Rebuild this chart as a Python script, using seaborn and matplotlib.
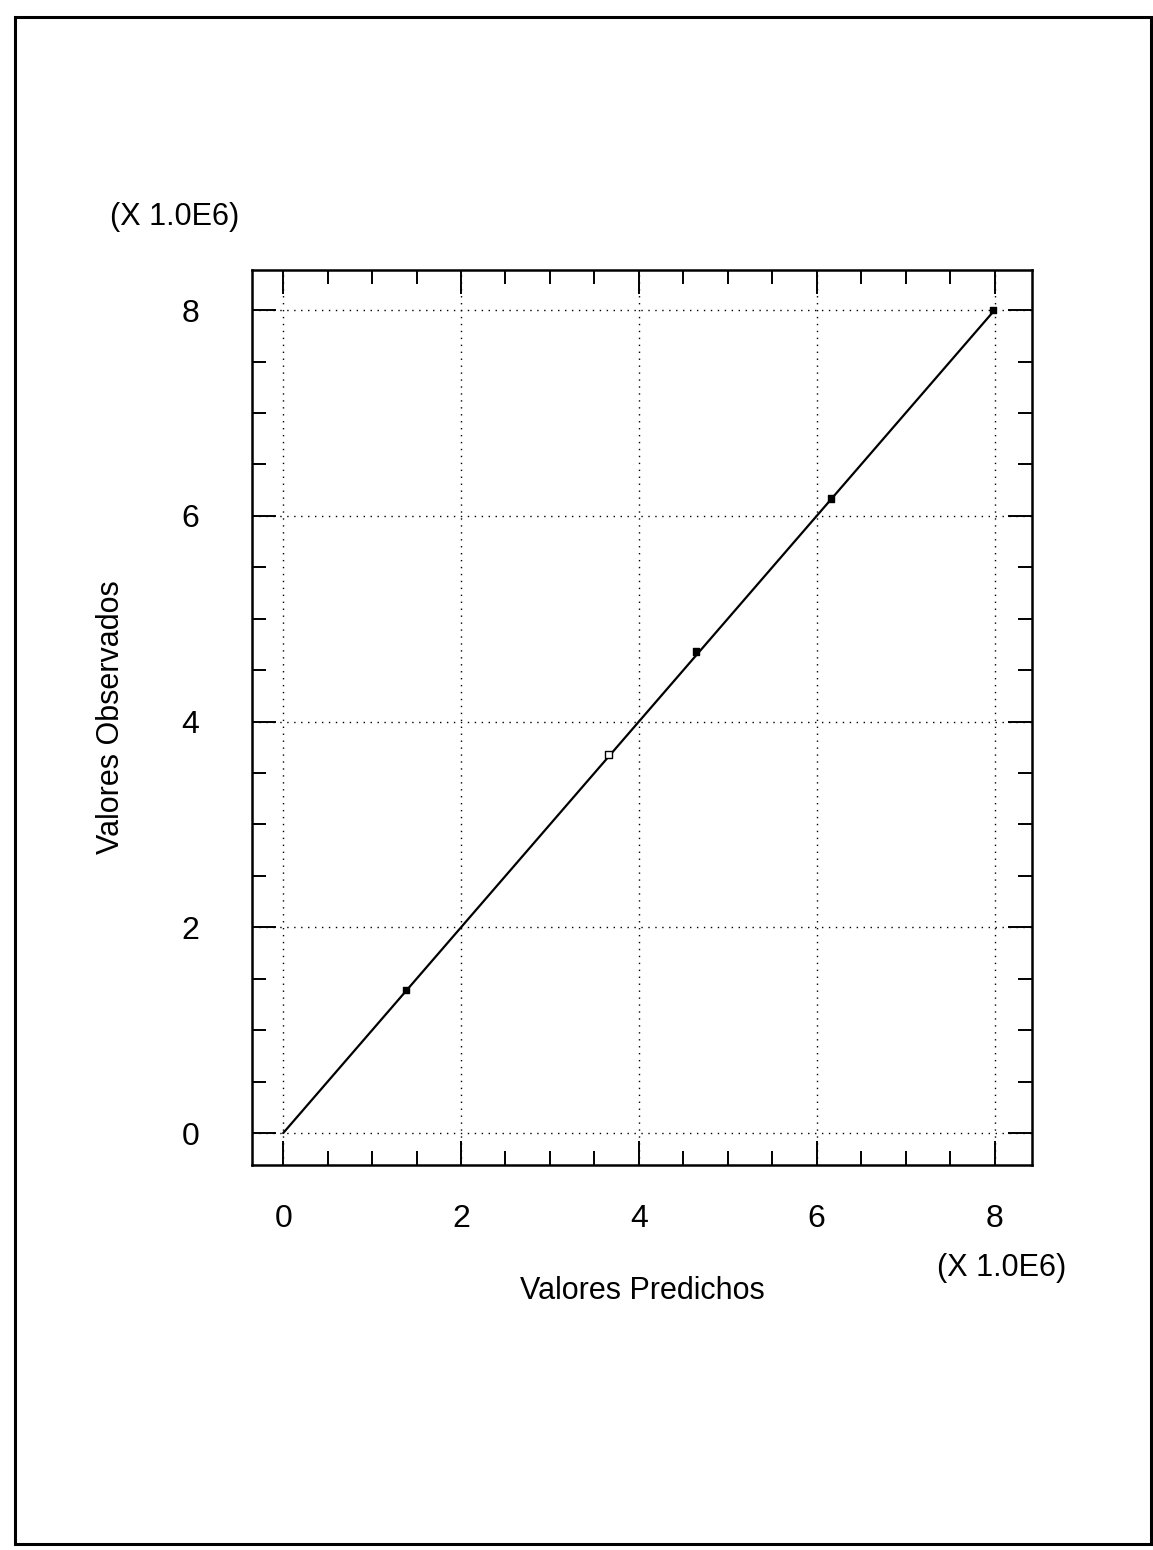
import matplotlib
matplotlib.use("Agg")
import matplotlib.pyplot as plt
from matplotlib.patches import Rectangle
from matplotlib.ticker import MultipleLocator
import pandas as pd
import seaborn as sns

# values in units of 1.0E6
predichos = [1.38, 3.66, 4.64, 6.16, 7.98]
observados = [1.39, 3.68, 4.68, 6.17, 8.00]
relleno = ['black', 'white', 'black', 'black', 'black']
linea_x = [0.0, 8.0]
linea_y = [0.0, 8.0]

sns.set_style("ticks")
plt.rcParams['font.family'] = ['Liberation Sans', 'DejaVu Sans']
plt.rcParams['text.color'] = 'black'
plt.rcParams['axes.labelcolor'] = 'black'
plt.rcParams['xtick.color'] = 'black'
plt.rcParams['ytick.color'] = 'black'

df = pd.DataFrame({'pred': predichos, 'obs': observados})
df_line = pd.DataFrame({'x': linea_x, 'y': linea_y})

fig = plt.figure(figsize=(11.53, 15.5), dpi=100)
ax = fig.add_axes([0.2186, 0.2484, 0.6764, 0.5774])

sns.lineplot(data=df_line, x='x', y='y', color='black', linewidth=1.6, ax=ax)
sns.scatterplot(data=df, x='pred', y='obs', marker='s', s=22,
                facecolor=relleno, edgecolor='black', linewidth=1.0, ax=ax, zorder=3)

ax.set_xlim(-0.35, 8.42)
ax.set_ylim(-0.31, 8.39)
ax.xaxis.set_major_locator(MultipleLocator(2))
ax.xaxis.set_minor_locator(MultipleLocator(0.5))
ax.yaxis.set_major_locator(MultipleLocator(2))
ax.yaxis.set_minor_locator(MultipleLocator(0.5))
ax.tick_params(which='both', direction='in', top=True, right=True, width=1.4, color='black')
ax.tick_params(which='major', length=17, labelsize=23)
ax.tick_params(which='minor', length=10)
ax.tick_params(axis='x', which='major', pad=28)
ax.tick_params(axis='y', which='major', pad=38)
ax.grid(True, which='major', linestyle=(0, (1, 4)), color='black', linewidth=1.0)

for s in ax.spines.values():
    s.set_linewidth(1.8)
    s.set_color('black')

ax.set_xlabel('Valores Predichos', fontsize=22, labelpad=30)
ax.set_ylabel('Valores Observados', fontsize=22, labelpad=40)

fig.text(0.095, 0.850, '(X 1.0E6)', fontsize=22, ha='left', va='bottom')
fig.text(0.925, 0.172, '(X 1.0E6)', fontsize=22, ha='right', va='bottom')

# page frame of the scanned sheet
fig.add_artist(Rectangle((0.013, 0.004), 0.985, 0.985, transform=fig.transFigure,
                         fill=False, edgecolor='black', linewidth=2.2))

fig.savefig('out.png', dpi=100)
